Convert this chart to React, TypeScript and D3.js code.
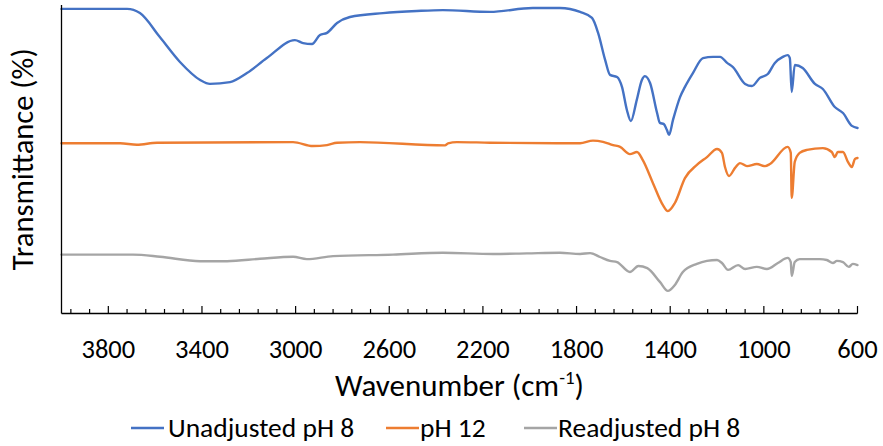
import React from "react";
import * as d3 from "d3";

// ---- Data ----
const unadjustedWn = [4000, 3720, 3665, 3580, 3494, 3408, 3366, 3280, 3208, 3123, 3003, 2968, 2930, 2896, 2866, 2823, 2768, 2627, 2482, 2371, 2170, 1987, 1871, 1785, 1734, 1708, 1678, 1657, 1627, 1606, 1585, 1568, 1543, 1521, 1508, 1486, 1456, 1444, 1427, 1414, 1405, 1388, 1358, 1337, 1303, 1260, 1217, 1187, 1157, 1132, 1080, 1051, 1017, 983, 953, 919, 898, 889, 881, 868, 834, 782, 748, 697, 662, 624, 600];
const unadjustedT = [101.7, 101.7, 100.3, 92.3, 84, 78, 76.7, 77.3, 80.3, 85.3, 91.3, 90.3, 90, 93, 93.7, 97, 99, 100.3, 101, 101.3, 100.7, 102, 102, 100.7, 98.7, 93.7, 84.7, 79.7, 79, 75.7, 68, 64.3, 71.3, 78, 79.3, 77, 67, 63.7, 63.3, 61.3, 59.7, 64.7, 72.3, 75.7, 80.3, 85.3, 85.7, 85.7, 83.7, 82.3, 76.7, 76, 78.7, 80, 83.7, 85.7, 86.3, 85.3, 74, 83, 82, 76.7, 75, 69, 67, 62.7, 62];

const ph12Wn = [4000, 3750, 3678, 3592, 3011, 2926, 2866, 2823, 2725, 2362, 2349, 2311, 2170, 1785, 1730, 1687, 1644, 1614, 1572, 1542, 1517, 1474, 1431, 1410, 1380, 1337, 1286, 1243, 1200, 1179, 1166, 1149, 1123, 1102, 1072, 1030, 995, 974, 898, 885, 881, 868, 847, 816, 748, 710, 697, 684, 662, 641, 624, 611, 600];
const ph12T = [56.9, 56.9, 56.4, 57.1, 57.3, 56, 56.3, 57.1, 57.3, 56.2, 56.9, 57.3, 57.1, 56.9, 57.8, 57.4, 56.3, 55.7, 53.3, 54, 51.3, 43.7, 36.3, 34.3, 37, 45.3, 49.7, 52.3, 55, 53.7, 49, 46, 48.7, 50.3, 49.3, 50, 49.3, 50, 55.7, 53.7, 38.7, 50.7, 53.7, 54.7, 55.3, 54, 52.3, 54, 54, 50.7, 49, 51.7, 52];

const readjustedWn = [4000, 3695, 3579, 3408, 3293, 3152, 3011, 2952, 2840, 2584, 2371, 2157, 2012, 1871, 1785, 1742, 1700, 1657, 1627, 1572, 1536, 1498, 1444, 1410, 1380, 1346, 1286, 1243, 1200, 1179, 1153, 1110, 1080, 1030, 987, 940, 898, 885, 881, 868, 847, 761, 731, 705, 688, 662, 637, 620, 600];
const readjustedT = [19.8, 19.8, 19.1, 17.6, 17.6, 18.4, 19.1, 18.3, 19.3, 19.8, 20.4, 20, 20.2, 20.4, 20, 20.3, 19, 17.7, 17.3, 14, 16, 15.3, 10.7, 7.7, 9.7, 14, 16.7, 17.7, 18, 17, 14.7, 16.3, 15, 15.7, 15, 17, 18.7, 17.3, 12.7, 17.3, 18.3, 18.3, 18, 17, 17.7, 17.3, 15.7, 16.7, 16.3];

const seriesNames = ["Unadjusted pH 8", "pH 12", "Readjusted pH 8"];
const seriesColors = ["#4472C4", "#ED7D31", "#A5A5A5"];
const majorTicks = [3800, 3400, 3000, 2600, 2200, 1800, 1400, 1000, 600];
const minorStep = 80;

const W = 883;
const H = 446;
const FONT = "Carlito, Calibri, Lato, sans-serif";

export default function App() {
  const left = 61.5;
  const right = 857.5;
  const top = 5;
  const bottom = 313.5;

  const x = d3.scaleLinear().domain([4000, 600]).range([left, right]);
  const y = d3.scaleLinear().domain([0, 103]).range([bottom + 0.5, top]);

  const series = [
    { wn: unadjustedWn, t: unadjustedT },
    { wn: ph12Wn, t: ph12T },
    { wn: readjustedWn, t: readjustedT },
  ];

  const line = d3
    .line<[number, number]>()
    .x((d) => x(d[0]))
    .y((d) => y(d[1]))
    .curve(d3.curveMonotoneX);

  const minorTicks = d3.range(600, 4000, minorStep).filter((v) => (v - 600) % 400 !== 0);

  const legendItems = [
    { sx: 131, tx: 168 },
    { sx: 386, tx: 420 },
    { sx: 524, tx: 558 },
  ];

  return (
    <svg
      width={W}
      height={H}
      style={{ position: "absolute", left: 0, top: 0, background: "#fff" }}
      fontFamily={FONT}
    >
      <rect x={0} y={0} width={W} height={H} fill="#fff" />
      {series.map((s, i) => (
        <path
          key={i}
          d={line(s.wn.map((w, k) => [w, s.t[k]] as [number, number])) || ""}
          fill="none"
          stroke={seriesColors[i]}
          strokeWidth={2.4}
          strokeLinejoin="round"
          strokeLinecap="round"
        />
      ))}
      {/* axes */}
      <line x1={left} x2={left} y1={top} y2={bottom} stroke="#000" strokeWidth={1.3} />
      <line x1={left} x2={right} y1={bottom} y2={bottom} stroke="#000" strokeWidth={1.3} />
      {minorTicks.map((v) => (
        <line key={"m" + v} x1={x(v)} x2={x(v)} y1={bottom} y2={bottom - 4.5} stroke="#000" strokeWidth={1.2} />
      ))}
      {majorTicks.map((v) => (
        <line key={"M" + v} x1={x(v)} x2={x(v)} y1={bottom} y2={bottom - 7.5} stroke="#000" strokeWidth={1.2} />
      ))}
      {majorTicks.map((v) => (
        <text key={"l" + v} x={x(v)} y={358} textAnchor="middle" fontSize={26.5} fill="#000">
          {v}
        </text>
      ))}
      <text x={(left + right) / 2} y={396} textAnchor="middle" fontSize={31} fill="#000">
        Wavenumber (cm
        <tspan fontSize={19} dy={-12}>-1</tspan>
        <tspan dy={12}>)</tspan>
      </text>
      <text
        transform={`translate(33,${(top + bottom) / 2}) rotate(-90)`}
        textAnchor="middle"
        fontSize={30.5}
        fill="#000"
      >
        Transmittance (%)
      </text>
      {seriesNames.map((n, i) => (
        <g key={n}>
          <line
            x1={legendItems[i].sx}
            x2={legendItems[i].sx + 33}
            y1={428}
            y2={428}
            stroke={seriesColors[i]}
            strokeWidth={2.4}
          />
          <text x={legendItems[i].tx} y={437} fontSize={27.5} fill="#000">
            {n}
          </text>
        </g>
      ))}
    </svg>
  );
}
